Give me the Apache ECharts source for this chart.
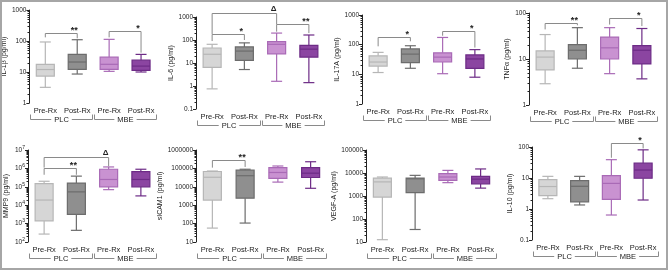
<!DOCTYPE html>
<html>
<head>
<meta charset="utf-8">
<script src="https://cdn.jsdelivr.net/npm/echarts@6/dist/echarts.min.js"></script>
<style>
html, body { margin: 0; padding: 0; background: #fff; }
#wrap { position: relative; width: 668px; height: 270px; }
#main { width: 668px; height: 270px; }
#frame { position: absolute; left: 0; top: 0; width: 668px; height: 270px; box-sizing: border-box; border: 2px solid #a6a6a6; pointer-events: none; }
</style>
</head>
<body>
<div id="wrap"><div id="main"></div><div id="frame"></div></div>
<script>
var categories = ['Pre-Rx', 'Post-Rx', 'Pre-Rx', 'Post-Rx'];
var groupNames = ['PLC', 'MBE'];
var panelNames = ['IL-1β (pg/ml)', 'IL-6 (pg/ml)', 'IL-17A (pg/ml)', 'TNFα (pg/ml)',
    'MMP9 (pg/ml)', 'sICAM1 (pg/ml)', 'VEGF-A (pg/ml)', 'IL-10 (pg/ml)'];
var axisMin = [1, 0.1, 1, 1, 100, 10, 10, 0.1];
var axisMax = [1000, 1000, 1000, 100, 1e7, 1e6, 1e5, 100];

// each box: min, q1, median, q3, max
var il1b = [[3.2, 7.4, 12, 17.7, 93], [8.6, 12.2, 21, 37, 110], [10.5, 12.2, 17.7, 30, 113], [10, 11.3, 15.5, 24, 37]];
var il6 = [[0.75, 6.5, 24, 45, 65], [5.2, 13, 33, 50, 75], [1.6, 25, 65, 85, 200], [1.4, 18, 40, 58, 165]];
var il17a = [[11.5, 19, 26, 42, 55], [16, 25, 48, 72, 92], [10.5, 26, 38, 53, 175], [8, 16, 33, 45, 68]];
var tnfa = [[2.9, 5.8, 11, 15, 34], [6.3, 10, 15.5, 20.6, 48], [4.8, 10, 17.5, 30, 48], [3.7, 7.8, 15.5, 19.6, 46]];
var mmp9 = [[270, 1400, 19000, 150000, 200000], [430, 3200, 53000, 160000, 380000], [70000, 100000, 250000, 900000, 1200000], [32000, 100000, 250000, 660000, 900000]];
var sicam1 = [[57, 1900, 33000, 68000, 72000], [107, 2400, 40000, 80000, 90000], [18000, 29000, 60000, 110000, 135000], [8300, 32000, 55000, 110000, 230000]];
var vegfa = [[12.6, 900, 4100, 6000, 6700], [35, 1400, 5600, 6000, 7900], [3800, 4800, 6700, 9400, 13000], [2200, 3400, 5400, 7200, 15000]];
var il10 = [[2.15, 2.7, 5.3, 8.8, 11.3], [1.35, 1.7, 5.4, 8.2, 11.3], [0.64, 2.05, 6.7, 11.9, 39], [1.95, 9.8, 18.1, 30, 81]];
var boxes = [il1b, il6, il17a, tnfa, mmp9, sicam1, vegfa, il10];

// significance brackets: from box, to box, bracket height, left leg end, right leg end
var sigPos = [
    [[0, 1, 177, 131, 122], [2, 3, 215, 131, 42]],
    [[0, 1, 180, 90, 100], [0, 2, 1500, 180, 480], [2, 3, 480, 230, 200]],
    [[0, 1, 178, 88, 130], [2, 3, 295, 200, 80]],
    [[0, 1, 60, 44, 54], [2, 3, 79, 56, 52]],
    [[0, 1, 1100000, 450000, 450000], [0, 2, 4000000, 1100000, 1300000]],
    [[0, 1, 290000, 110000, 120000]],
    [],
    [[2, 3, 134, 45, 90]]
];
var sigText = [['**', '*'], ['*', 'Δ', '**'], ['*', '*'], ['**', '*'], ['**', 'Δ'], ['**'], [], ['*']];

var fills = ['#d6d6d6', '#8f8f8f', '#c992d1', '#8b45a1'];
var strokes = ['#b6b6b6', '#6c6c6c', '#a96ab6', '#6d2b86'];
var font = 'Liberation Sans, Arial, sans-serif';

var layout = [
    { left: 29, top: 10, width: 128, height: 93, gap: 18 },
    { left: 196, top: 17, width: 129, height: 92, gap: 20 },
    { left: 362, top: 15, width: 129, height: 89, gap: 20 },
    { left: 529, top: 13, width: 129, height: 92, gap: 18 },
    { left: 28, top: 150, width: 129, height: 92, gap: 18 },
    { left: 196, top: 150, width: 131, height: 92, gap: 26 },
    { left: 366, top: 150, width: 131, height: 92, gap: 26 },
    { left: 532, top: 147, width: 127, height: 93, gap: 18 }
];

// log minor tick positions (2..9 x each decade) between the axis ends
function minorValues(lo, hi) {
    var out = [];
    for (var e = Math.round(Math.log10(lo)); e < Math.round(Math.log10(hi)); e++) {
        for (var m = 2; m <= 9; m++) out.push([0, m * Math.pow(10, e)]);
    }
    return out;
}

function renderBox(params, api) {
    var k = api.value(0);
    var p = [1, 2, 3, 4, 5].map(function (d) { return api.coord([k, api.value(d)]); });
    var cx = p[0][0];
    var half = 9, cap = 5.5;
    var ls = { stroke: strokes[k], lineWidth: 1.2 };
    return {
        type: 'group',
        children: [
            { type: 'line', shape: { x1: cx, y1: p[4][1], x2: cx, y2: p[3][1] }, style: ls },
            { type: 'line', shape: { x1: cx, y1: p[1][1], x2: cx, y2: p[0][1] }, style: ls },
            { type: 'line', shape: { x1: cx - cap, y1: p[4][1], x2: cx + cap, y2: p[4][1] }, style: ls },
            { type: 'line', shape: { x1: cx - cap, y1: p[0][1], x2: cx + cap, y2: p[0][1] }, style: ls },
            { type: 'rect', shape: { x: cx - half, y: p[3][1], width: half * 2, height: p[1][1] - p[3][1] },
                style: { fill: fills[k], stroke: strokes[k], lineWidth: 1.2 } },
            { type: 'line', shape: { x1: cx - half, y1: p[2][1], x2: cx + half, y2: p[2][1] }, style: ls }
        ]
    };
}

function renderMinor(params, api) {
    var c = api.coord([0, api.value(1)]);
    var x = Math.round(c[0] - api.size([1, 0])[0] / 2) + 0.5;
    var y = Math.round(c[1]) + 0.5;
    return { type: 'line', shape: { x1: x - 2, y1: y, x2: x, y2: y }, style: { stroke: '#222', lineWidth: 1 } };
}

function groupRenderer(i) {
    return function (params, api) {
        var a = api.coord([api.value(0), axisMin[i]]);
        var b = api.coord([api.value(1), axisMin[i]]);
        var hb = api.size([1, 0])[0] / 2 - 1;
        var y = Math.round(a[1] + 16) + 0.5;
        var x0 = Math.round(a[0] - hb) + 0.5, x1 = Math.round(b[0] + hb) + 0.5;
        return {
            type: 'group',
            children: [
                { type: 'polyline', shape: { points: [[x0, y - 5], [x0, y], [x1, y], [x1, y - 5]] }, style: { stroke: '#8a8a8a', lineWidth: 1, fill: null } },
                { type: 'text', x: (x0 + x1) / 2, y: y, style: { text: groupNames[params.dataIndex], fill: '#222', fontSize: 7.5, fontFamily: font,
                    align: 'center', verticalAlign: 'middle', backgroundColor: '#fff', padding: [0, 3] } }
            ]
        };
    };
}

function sigRenderer(i) {
    return function (params, api) {
        var a = api.coord([api.value(0), api.value(2)]);
        var b = api.coord([api.value(1), api.value(2)]);
        var la = api.coord([api.value(0), api.value(3)]);
        var lb = api.coord([api.value(1), api.value(4)]);
        var t = sigText[i][params.dataIndex];
        var y = Math.round(a[1]) + 0.5;
        return {
            type: 'group',
            children: [
                { type: 'polyline', shape: { points: [[a[0], la[1]], [a[0], y], [b[0], y], [b[0], lb[1]]] },
                    style: { stroke: '#8a8a8a', lineWidth: 1, fill: null } },
                { type: 'text', x: b[0] - 3, y: y + (t === 'Δ' ? -1 : 2), style: { text: t, fill: '#222', fontSize: t === 'Δ' ? 8 : 9,
                    fontWeight: 'bold', fontFamily: font, align: 'center', verticalAlign: 'bottom' } }
            ]
        };
    };
}

function tickLabel(i) {
    if (i === 4) {
        return function (v) { return '10{e|' + Math.round(Math.log10(v)) + '}'; };
    }
    return function (v) { return String(Math.round(v * 1000) / 1000); };
}

var grids = [], xAxes = [], yAxes = [], series = [];
layout.forEach(function (g, i) {
    grids.push({ left: g.left, top: g.top, width: g.width, height: g.height });
    xAxes.push({
        type: 'category', gridIndex: i, data: categories,
        axisLine: { show: false }, axisTick: { show: false },
        axisLabel: { interval: 0, fontSize: 7.5, color: '#222', margin: 4, fontFamily: font }
    });
    yAxes.push({
        type: 'log', logBase: 10, gridIndex: i, min: axisMin[i], max: axisMax[i],
        name: panelNames[i], nameLocation: 'middle', nameGap: g.gap,
        nameTextStyle: { fontSize: 7, color: '#222', fontFamily: font },
        axisLine: { show: true, lineStyle: { color: '#222', width: 1 } },
        axisTick: { show: true, length: 3, lineStyle: { color: '#222' } },
        minorTick: { show: false },
        splitLine: { show: false },
        axisLabel: {
            fontSize: 6.5, color: '#222', margin: 3, fontFamily: font, formatter: tickLabel(i),
            rich: { e: { fontSize: 5, padding: [0, 0, 5, 0], fontFamily: font, color: '#222' } }
        }
    });
    series.push({
        type: 'custom', xAxisIndex: i, yAxisIndex: i, renderItem: renderMinor,
        encode: { x: 0, y: 1 }, data: minorValues(axisMin[i], axisMax[i]), silent: true
    });
    series.push({
        type: 'custom', xAxisIndex: i, yAxisIndex: i, renderItem: renderBox,
        encode: { x: 0, y: [1, 2, 3, 4, 5] },
        data: boxes[i].map(function (b, k) { return [k].concat(b); })
    });
    series.push({
        type: 'custom', xAxisIndex: i, yAxisIndex: i, renderItem: groupRenderer(i),
        encode: { x: [0, 1] }, data: [[0, 1], [2, 3]], silent: true
    });
    if (sigPos[i].length) {
        series.push({
            type: 'custom', xAxisIndex: i, yAxisIndex: i, renderItem: sigRenderer(i),
            encode: { x: [0, 1], y: [2, 3, 4] }, data: sigPos[i], silent: true
        });
    }
});

var myChart = echarts.init(document.getElementById('main'));
myChart.setOption({
    animation: false,
    backgroundColor: '#fff',
    textStyle: { fontFamily: font },
    grid: grids,
    xAxis: xAxes,
    yAxis: yAxes,
    series: series
});
</script>
</body>
</html>
